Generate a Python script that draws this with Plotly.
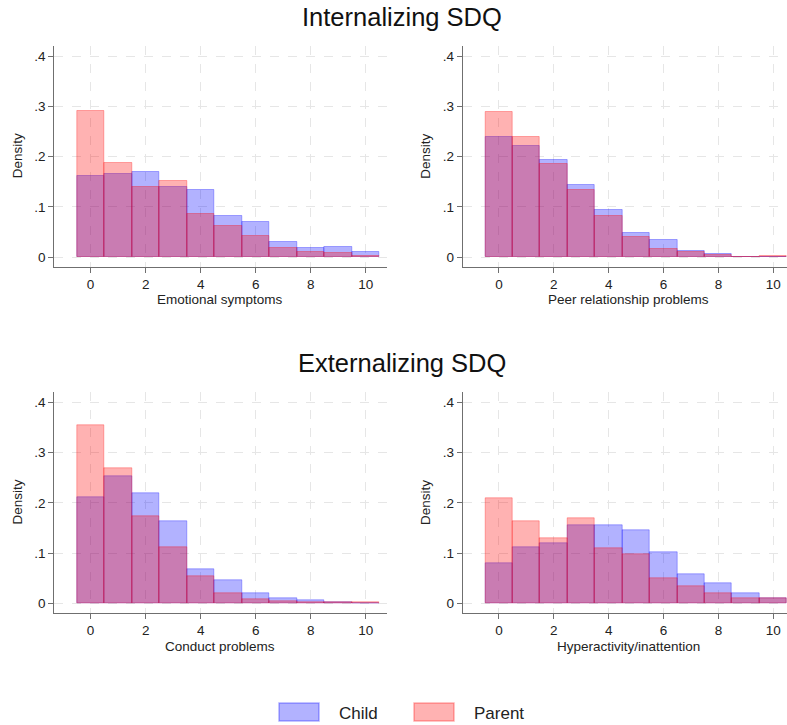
import plotly.graph_objects as go

# ---- data (density per score 0..10) ----
scores = list(range(11))

emo_child  = [0.162, 0.166, 0.169, 0.140, 0.133, 0.083, 0.070, 0.030, 0.019, 0.021, 0.010]
emo_parent = [0.291, 0.187, 0.140, 0.152, 0.086, 0.063, 0.042, 0.018, 0.011, 0.009, 0.003]

peer_child  = [0.240, 0.222, 0.193, 0.143, 0.095, 0.049, 0.034, 0.012, 0.007, 0.001, 0.000]
peer_parent = [0.289, 0.240, 0.185, 0.134, 0.082, 0.040, 0.017, 0.011, 0.005, 0.000, 0.002]

cond_child  = [0.211, 0.253, 0.218, 0.163, 0.068, 0.045, 0.020, 0.009, 0.005, 0.003, 0.001]
cond_parent = [0.355, 0.269, 0.174, 0.111, 0.054, 0.019, 0.007, 0.004, 0.003, 0.002, 0.003]

hyp_child  = [0.080, 0.112, 0.120, 0.155, 0.155, 0.145, 0.102, 0.057, 0.039, 0.019, 0.010]
hyp_parent = [0.209, 0.163, 0.129, 0.169, 0.109, 0.098, 0.050, 0.033, 0.019, 0.009, 0.009]

panel_titles = ["Emotional symptoms", "Peer relationship problems",
                "Conduct problems", "Hyperactivity/inattention"]
group_titles = ["Internalizing SDQ", "Externalizing SDQ"]
series_names = ["Child", "Parent"]
x_tickvals = [0, 2, 4, 6, 8, 10]
x_ticktext = ["0", "2", "4", "6", "8", "10"]
y_tickvals = [0, 0.1, 0.2, 0.3, 0.4]
y_ticktext = ["0", ".1", ".2", ".3", ".4"]

W, H = 787, 725
FONT = "Liberation Sans, Arial, sans-serif"
CHILD_FILL = "rgba(0,0,255,0.30)"
PARENT_FILL = "rgba(255,0,0,0.30)"
AXIS_COL = "#6f6f6f"
GRID_COL = "#e6e6e6"

def px_x(p):
    return p / W

def px_y(p):
    return 1 - p / H

fig = go.Figure()

panels = [
    (emo_child, emo_parent, "x", "y"),
    (peer_child, peer_parent, "x2", "y2"),
    (cond_child, cond_parent, "x3", "y3"),
    (hyp_child, hyp_parent, "x4", "y4"),
]
for child, parent, xa, ya in panels:
    fig.add_trace(go.Bar(x=scores, y=child, width=1, name=series_names[0],
                         marker=dict(color=CHILD_FILL, line=dict(color=CHILD_FILL, width=1)),
                         xaxis=xa, yaxis=ya, showlegend=False))
    fig.add_trace(go.Bar(x=scores, y=parent, width=1, name=series_names[1],
                         marker=dict(color=PARENT_FILL, line=dict(color=PARENT_FILL, width=1)),
                         xaxis=xa, yaxis=ya, showlegend=False))

# layout geometry (pixels)
x_domains = [(54.3, 386.7), (462.7, 787.0)]
x_ranges = [[-1.32, 10.76], [-1.32, 10.50]]
y_domains = [(46.0, 266.7), (392.3, 612.7)]
y_range = [-0.0187, 0.42]

axis_common = dict(showline=True, linecolor=AXIS_COL, linewidth=1, mirror=False,
                   ticks="outside", ticklen=5, tickcolor=AXIS_COL, tickwidth=1,
                   showgrid=True, gridcolor=GRID_COL, gridwidth=1, griddash="dash",
                   zeroline=False, tickfont=dict(family=FONT, size=13.5, color="#222"))

layout = {}
idx = 0
for r in range(2):
    for c in range(2):
        idx += 1
        sx = "" if idx == 1 else str(idx)
        layout["xaxis" + sx] = dict(
            domain=[px_x(x_domains[c][0]), px_x(x_domains[c][1])],
            range=x_ranges[c], anchor="y" + sx,
            tickvals=x_tickvals, ticktext=x_ticktext, **axis_common)
        layout["yaxis" + sx] = dict(
            domain=[px_y(y_domains[r][1]), px_y(y_domains[r][0])],
            range=y_range, anchor="x" + sx,
            tickvals=y_tickvals, ticktext=y_ticktext, **axis_common)

annotations = []
# group titles
for t, yc in zip(group_titles, [16.5, 362.5]):
    annotations.append(dict(text=t, x=px_x(402), y=px_y(yc), xref="paper", yref="paper",
                            xanchor="center", yanchor="middle", showarrow=False,
                            font=dict(family=FONT, size=25.5, color="#111")))
# x-axis titles and y-axis titles
xt_centers = [220.5, 628.0]
xt_y = [300.0, 646.5]
yt_x = [17.0, 425.5]
for r in range(2):
    for c in range(2):
        annotations.append(dict(text=panel_titles[2 * r + c], x=px_x(xt_centers[c]), y=px_y(xt_y[r]),
                                xref="paper", yref="paper", xanchor="center", yanchor="middle",
                                showarrow=False, font=dict(family=FONT, size=13.5, color="#222")))
        annotations.append(dict(text="Density", x=px_x(yt_x[c]),
                                y=px_y(0.5 * (y_domains[r][0] + y_domains[r][1])),
                                xref="paper", yref="paper", xanchor="center", yanchor="middle",
                                textangle=-90, showarrow=False,
                                font=dict(family=FONT, size=13.5, color="#222")))

# legend (swatches + labels)
shapes = []
legend_items = [(series_names[0], CHILD_FILL, 279, 337), (series_names[1], PARENT_FILL, 414, 472)]
for name, col, sx0, tx in legend_items:
    shapes.append(dict(type="rect", xref="paper", yref="paper",
                       x0=px_x(sx0), x1=px_x(sx0 + 40), y0=px_y(721), y1=px_y(703),
                       fillcolor=col, line=dict(color=col, width=1.5)))
    annotations.append(dict(text=name, x=px_x(tx), y=px_y(713), xref="paper", yref="paper",
                            xanchor="left", yanchor="middle", showarrow=False,
                            font=dict(family=FONT, size=17, color="#222")))

fig.update_layout(
    width=W, height=H, margin=dict(l=0, r=0, t=0, b=0),
    paper_bgcolor="white", plot_bgcolor="white",
    barmode="overlay", bargap=0, showlegend=False,
    annotations=annotations, shapes=shapes, **layout)

fig.write_html("out.html", config={"displayModeBar": False},
               post_script="document.body.style.margin='0';document.body.style.overflow='hidden';")
